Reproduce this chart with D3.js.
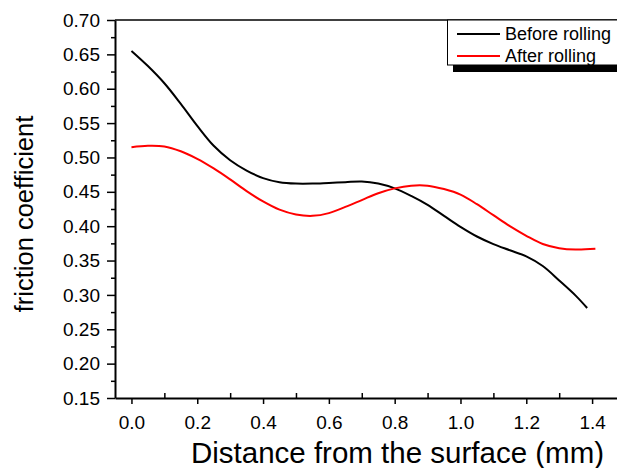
<!DOCTYPE html>
<html>
<head>
<meta charset="utf-8">
<script src="https://cdn.jsdelivr.net/npm/d3@7"></script>
<style>
  body { margin: 0; background: #fff; }
  svg { display: block; font-family: Arial, "Liberation Sans", sans-serif; }
</style>
</head>
<body>
<svg id="chart" width="617" height="468"></svg>
<script>
// Friction coefficient vs. depth below the surface, before and after rolling
const distanceBefore = [0.00, 0.05, 0.10, 0.15, 0.20, 0.25, 0.30, 0.35, 0.40, 0.45, 0.50, 0.55, 0.60, 0.65, 0.70, 0.75, 0.80, 0.85, 0.90, 0.95, 1.00, 1.05, 1.10, 1.15, 1.20, 1.25, 1.30, 1.35, 1.385];
const frictionBefore = [0.655, 0.633, 0.608, 0.578, 0.546, 0.517, 0.496, 0.481, 0.470, 0.464, 0.462, 0.462, 0.463, 0.464, 0.465, 0.462, 0.455, 0.444, 0.431, 0.415, 0.399, 0.385, 0.374, 0.365, 0.356, 0.342, 0.321, 0.299, 0.281];

const distanceAfter = [0.00, 0.05, 0.10, 0.15, 0.20, 0.25, 0.30, 0.35, 0.40, 0.45, 0.50, 0.55, 0.60, 0.65, 0.70, 0.75, 0.80, 0.85, 0.90, 0.95, 1.00, 1.05, 1.10, 1.15, 1.20, 1.25, 1.30, 1.35, 1.41];
const frictionAfter = [0.515, 0.517, 0.516, 0.509, 0.498, 0.484, 0.468, 0.451, 0.436, 0.424, 0.417, 0.415, 0.419, 0.428, 0.438, 0.448, 0.455, 0.459, 0.459, 0.454, 0.446, 0.432, 0.416, 0.400, 0.386, 0.374, 0.368, 0.366, 0.367];

const seriesNames = ["Before rolling", "After rolling"];
const seriesColors = ["#000000", "#ff0000"];

const yTickValues = [0.15, 0.20, 0.25, 0.30, 0.35, 0.40, 0.45, 0.50, 0.55, 0.60, 0.65, 0.70];
const yMinorValues = [0.175, 0.225, 0.275, 0.325, 0.375, 0.425, 0.475, 0.525, 0.575, 0.625, 0.675];
const xTickValues = [0.0, 0.2, 0.4, 0.6, 0.8, 1.0, 1.2, 1.4];
const xMinorValues = [0.1, 0.3, 0.5, 0.7, 0.9, 1.1, 1.3];

const xTitle = "Distance from the surface (mm)";
const yTitle = "friction coefficient";

const svg = d3.select("#chart");

const plotLeft = 115, plotRight = 625, plotTop = 20, plotBottom = 398;

const x = d3.scaleLinear().domain([-0.05, 1.5]).range([plotLeft, plotRight]);
const y = d3.scaleLinear().domain([0.15, 0.70]).range([plotBottom, plotTop]);

// frame line along the top
svg.append("line")
  .attr("x1", plotLeft).attr("x2", plotRight)
  .attr("y1", plotTop).attr("y2", plotTop)
  .attr("stroke", "#000").attr("stroke-width", 1.5);

// y axis: major ticks outward with labels, short minor ticks outward
svg.append("g")
  .attr("transform", `translate(${plotLeft},0)`)
  .call(d3.axisLeft(y).tickValues(yTickValues).tickSize(8).tickSizeOuter(0)
    .tickPadding(7).tickFormat(d3.format(".2f")));
svg.append("g")
  .attr("transform", `translate(${plotLeft},0)`)
  .call(d3.axisLeft(y).tickValues(yMinorValues).tickSize(4).tickSizeOuter(0).tickFormat(""))
  .call(g => g.select(".domain").remove());

// x axis: major ticks outward with labels, minor ticks pointing inward
svg.append("g")
  .attr("transform", `translate(0,${plotBottom})`)
  .call(d3.axisBottom(x).tickValues(xTickValues).tickSize(6).tickSizeOuter(0)
    .tickPadding(12).tickFormat(d3.format(".1f")));
svg.append("g")
  .attr("transform", `translate(0,${plotBottom})`)
  .call(d3.axisBottom(x).tickValues(xMinorValues).tickSize(-5).tickSizeOuter(0).tickFormat(""))
  .call(g => g.select(".domain").remove());

svg.selectAll(".domain").attr("stroke", "#000").attr("stroke-width", 2);
svg.selectAll(".tick line").attr("stroke", "#000").attr("stroke-width", 1.5);
svg.selectAll(".tick text")
  .attr("fill", "#000")
  .style("font-size", "19px")
  .style("font-family", "Arial, 'Liberation Sans', sans-serif");

// data lines
const line = d3.line()
  .x(d => x(d[0]))
  .y(d => y(d[1]))
  .curve(d3.curveCatmullRom.alpha(0.5));

const series = [
  d3.zip(distanceBefore, frictionBefore),
  d3.zip(distanceAfter, frictionAfter)
];

series.forEach((pts, i) => {
  svg.append("path")
    .datum(pts)
    .attr("fill", "none")
    .attr("stroke", seriesColors[i])
    .attr("stroke-width", 2)
    .attr("stroke-linejoin", "round")
    .attr("d", line);
});

// axis titles
svg.append("text")
  .attr("x", 397.5)
  .attr("y", 463)
  .attr("text-anchor", "middle")
  .style("font-size", "29.5px")
  .text(xTitle);

svg.append("text")
  .attr("transform", "translate(33,214) rotate(-90)")
  .attr("text-anchor", "middle")
  .style("font-size", "25.5px")
  .text(yTitle);

// legend with drop shadow
const lg = svg.append("g");
lg.append("rect")
  .attr("x", 453).attr("y", 26).attr("width", 200).attr("height", 46)
  .attr("fill", "#000");
lg.append("rect")
  .attr("x", 447.5).attr("y", 20).attr("width", 200).attr("height", 45)
  .attr("fill", "#fff").attr("stroke", "#000").attr("stroke-width", 1);

const legendRows = [34, 56];
seriesNames.forEach((name, i) => {
  lg.append("line")
    .attr("x1", 457).attr("x2", 500)
    .attr("y1", legendRows[i]).attr("y2", legendRows[i])
    .attr("stroke", seriesColors[i]).attr("stroke-width", 2);
  lg.append("text")
    .attr("x", 505).attr("y", legendRows[i] + 5.8)
    .style("font-size", "18px")
    .text(name);
});
</script>
</body>
</html>
